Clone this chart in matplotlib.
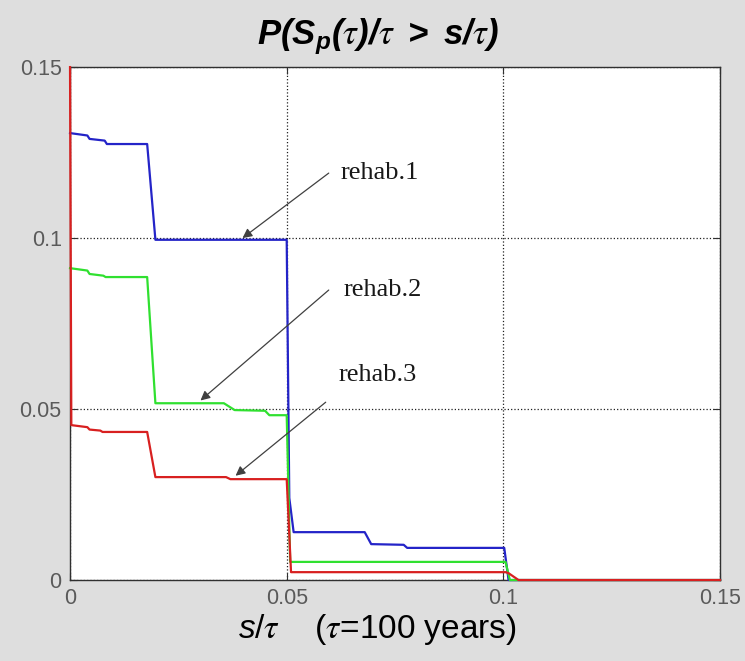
import matplotlib
matplotlib.use("Agg")
import matplotlib.pyplot as plt

# Survival curves (s/tau, probability)
rehab1_x = [0, 0.004, 0.0045, 0.008, 0.0085, 0.0178, 0.0197, 0.0500, 0.0506, 0.0516,
            0.068, 0.0695, 0.077, 0.0778, 0.1002, 0.1012, 0.15]
rehab1_y = [0.1307, 0.1300, 0.1290, 0.1285, 0.1275, 0.1275, 0.0995, 0.0995, 0.024, 0.014,
            0.014, 0.0105, 0.0103, 0.0094, 0.0094, 0.0, 0.0]

rehab2_x = [0, 0.004, 0.0045, 0.0077, 0.0082, 0.0178, 0.0197, 0.0355, 0.038, 0.045,
            0.046, 0.0500, 0.0508, 0.1005, 0.1015, 0.15]
rehab2_y = [0.0912, 0.0905, 0.0895, 0.0890, 0.0886, 0.0886, 0.0517, 0.0517, 0.0497, 0.0495,
            0.0482, 0.0482, 0.0053, 0.0053, 0.0, 0.0]

rehab3_x = [0, 0.0003, 0.004, 0.0045, 0.007, 0.0075, 0.0178, 0.0197, 0.036, 0.037,
            0.0500, 0.0510, 0.1005, 0.1012, 0.1035, 0.15]
rehab3_y = [0.15, 0.0453, 0.0447, 0.0440, 0.0437, 0.0433, 0.0433, 0.0301, 0.0301, 0.0295,
            0.0295, 0.0023, 0.0023, 0.0020, 0.0, 0.0]

ticks = [0, 0.05, 0.1, 0.15]
tick_labels = ["0", "0.05", "0.1", "0.15"]

# annotation: label, text position, arrow tail and head
labels = ["rehab.1", "rehab.2", "rehab.3"]
label_xy = [(0.0625, 0.119), (0.063, 0.0848), (0.062, 0.060)]
tail_xy = [(0.0597, 0.119), (0.0597, 0.0848), (0.059, 0.052)]
head_xy = [(0.0398, 0.1000), (0.0301, 0.0525), (0.0382, 0.0305)]

plt.rcParams["mathtext.fontset"] = "custom"
plt.rcParams["mathtext.it"] = "Liberation Sans:italic"
plt.rcParams["mathtext.bf"] = "Liberation Sans:bold:italic"
plt.rcParams["mathtext.rm"] = "Liberation Sans"
plt.rcParams["mathtext.sf"] = "STIXGeneral:italic"
plt.rcParams["font.family"] = ["Liberation Sans", "DejaVu Sans"]

fig = plt.figure(figsize=(7.45, 6.61), dpi=100, facecolor="#dedede")
ax = fig.add_axes([0.094, 0.1225, 0.8725, 0.776])

ax.plot(rehab1_x, rehab1_y, color="#2424c8", lw=1.6, zorder=3, clip_on=False)
ax.plot(rehab2_x, rehab2_y, color="#30e030", lw=1.6, zorder=3, clip_on=False)
ax.plot(rehab3_x, rehab3_y, color="#d82020", lw=1.6, zorder=3, clip_on=False)

for lab, txy, hxy, lxy in zip(labels, tail_xy, head_xy, label_xy):
    ax.annotate("", xy=hxy, xytext=txy,
                arrowprops=dict(arrowstyle="-|>", color="#404040", lw=0.9,
                                mutation_scale=14, shrinkA=0, shrinkB=0))
    ax.text(lxy[0], lxy[1], lab, family="Liberation Serif", fontsize=19,
            color="#181818", ha="left", va="center")

ax.set_xlim(0, 0.15)
ax.set_ylim(0, 0.15)
ax.set_xticks(ticks)
ax.set_yticks(ticks)
ax.set_xticklabels(tick_labels)
ax.set_yticklabels(tick_labels)
ax.tick_params(direction="in", length=5, top=True, right=True,
               labelsize=15.5, labelcolor="#5a5a5a", color="#303030", pad=6)
ax.grid(True, linestyle=":", color="#202020", lw=0.9)
for spine in ax.spines.values():
    spine.set_color("#303030")
    spine.set_linewidth(1.0)

fig.text(0.507, 0.945,
         r"$\mathbf{P(S_p(}\mathsf{\tau}\mathbf{)/}\mathsf{\tau}\mathbf{\ >\ s/}\mathsf{\tau}\mathbf{)}$",
         fontsize=25, ha="center", va="center")
fig.text(0.506, 0.047,
         r"$\mathit{s}/\mathsf{\tau}$    ($\mathsf{\tau}$=100 years)",
         fontsize=24, ha="center", va="center")

fig.savefig("out.png", dpi=100, facecolor=fig.get_facecolor())
